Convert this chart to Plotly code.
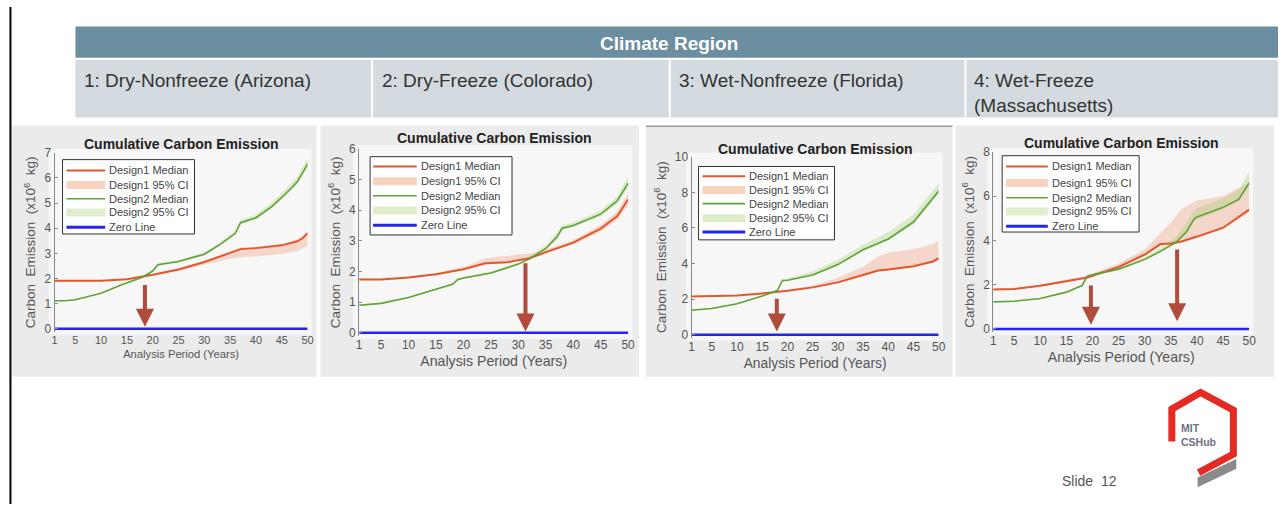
import plotly.graph_objects as go

W, H = 1285, 508
FONT = "Liberation Sans, Arial, sans-serif"

# ---------------- data ----------------
year_ticks = [1, 5, 10, 15, 20, 25, 30, 35, 40, 45, 50]
zero_years = [1, 50]
zero_values = [0, 0]

region_labels = ["1: Dry-Nonfreeze (Arizona)", "2: Dry-Freeze (Colorado)",
                 "3: Wet-Nonfreeze (Florida)", "4: Wet-Freeze<br>(Massachusetts)"]
legend_labels = ["Design1 Median", "Design1 95% CI", "Design2 Median", "Design2 95% CI", "Zero Line"]

# Chart 1: Arizona
az_d1_years = [1, 5, 10, 15, 17, 20, 25, 30, 35, 37, 40, 45, 48, 49, 50]
az_d1_med = [1.91, 1.90, 1.91, 1.97, 2.03, 2.15, 2.36, 2.66, 3.02, 3.17, 3.21, 3.32, 3.48, 3.60, 3.80]
az_d1_lo = [1.89, 1.88, 1.89, 1.95, 2.00, 2.11, 2.30, 2.55, 2.80, 2.85, 2.88, 2.98, 3.10, 3.20, 3.30]
az_d1_hi = [1.93, 1.92, 1.93, 1.99, 2.05, 2.18, 2.40, 2.70, 3.07, 3.22, 3.26, 3.37, 3.54, 3.68, 3.90]
az_d2_years = [1, 3, 5, 10, 14, 18, 20, 21, 25, 30, 33, 36, 37, 40, 43, 46, 48, 50]
az_d2_med = [1.12, 1.12, 1.16, 1.42, 1.75, 2.05, 2.30, 2.55, 2.68, 2.97, 3.35, 3.80, 4.22, 4.42, 4.85, 5.42, 5.85, 6.55]
az_d2_lo = [1.10, 1.10, 1.14, 1.40, 1.73, 2.02, 2.26, 2.50, 2.63, 2.92, 3.30, 3.74, 4.15, 4.35, 4.78, 5.33, 5.75, 6.40]
az_d2_hi = [1.14, 1.14, 1.18, 1.44, 1.78, 2.08, 2.35, 2.60, 2.74, 3.04, 3.43, 3.90, 4.32, 4.55, 5.00, 5.60, 6.05, 6.80]
az_arrows_x = [18.5]
az_arrows_tail = [1.80]
az_arrows_tip = [0.08]

# Chart 2: Colorado
co_d1_years = [1, 5, 10, 15, 20, 24, 25, 28, 30, 32, 35, 40, 45, 48, 50]
co_d1_med = [1.74, 1.74, 1.80, 1.91, 2.07, 2.27, 2.28, 2.30, 2.37, 2.43, 2.63, 2.94, 3.40, 3.80, 4.35]
co_d1_lo = [1.72, 1.72, 1.78, 1.89, 2.04, 2.24, 2.25, 2.27, 2.34, 2.40, 2.58, 2.88, 3.30, 3.68, 4.15]
co_d1_hi = [1.77, 1.77, 1.83, 1.95, 2.14, 2.42, 2.46, 2.50, 2.55, 2.58, 2.72, 3.02, 3.52, 3.95, 4.55]
co_d2_years = [1, 5, 10, 15, 18, 19, 20, 25, 30, 32, 35, 37, 38, 40, 45, 48, 50]
co_d2_med = [0.90, 0.96, 1.15, 1.42, 1.58, 1.74, 1.79, 1.95, 2.24, 2.41, 2.75, 3.12, 3.41, 3.50, 3.87, 4.30, 4.88]
co_d2_lo = [0.88, 0.94, 1.13, 1.40, 1.56, 1.71, 1.76, 1.92, 2.20, 2.37, 2.70, 3.05, 3.35, 3.44, 3.80, 4.20, 4.75]
co_d2_hi = [0.92, 0.98, 1.18, 1.45, 1.62, 1.78, 1.83, 2.00, 2.30, 2.48, 2.85, 3.25, 3.52, 3.60, 3.98, 4.45, 5.10]
co_arrows_x = [31.3]
co_arrows_tail = [2.32]
co_arrows_tip = [0.04]

# Chart 3: Florida
fl_d1_years = [1, 10, 15, 18, 20, 25, 30, 35, 38, 40, 45, 49, 50]
fl_d1_med = [2.15, 2.20, 2.32, 2.39, 2.47, 2.66, 2.94, 3.36, 3.61, 3.67, 3.85, 4.13, 4.30]
fl_d1_lo = [2.12, 2.17, 2.29, 2.36, 2.44, 2.62, 2.90, 3.30, 3.55, 3.60, 3.78, 4.05, 4.20]
fl_d1_hi = [2.18, 2.23, 2.35, 2.42, 2.51, 2.75, 3.20, 3.80, 4.40, 4.60, 4.80, 5.10, 5.30]
fl_d2_years = [1, 5, 10, 15, 18, 19, 20, 25, 30, 35, 40, 45, 50]
fl_d2_med = [1.38, 1.47, 1.74, 2.17, 2.48, 3.05, 3.06, 3.36, 3.94, 4.77, 5.38, 6.33, 8.07]
fl_d2_lo = [1.35, 1.44, 1.71, 2.14, 2.45, 3.00, 3.01, 3.30, 3.88, 4.70, 5.30, 6.20, 7.90]
fl_d2_hi = [1.41, 1.50, 1.77, 2.20, 2.52, 3.12, 3.15, 3.55, 4.20, 5.05, 5.75, 6.75, 8.50]
fl_arrows_x = [17.9]
fl_arrows_tail = [2.11]
fl_arrows_tip = [0.18]

# Chart 4: Massachusetts
ma_d1_years = [1, 5, 10, 15, 19, 20, 25, 30, 33, 35, 37, 40, 45, 50]
ma_d1_med = [1.78, 1.80, 1.95, 2.14, 2.32, 2.40, 2.80, 3.36, 3.83, 3.86, 3.95, 4.17, 4.57, 5.39]
ma_d1_lo = [1.76, 1.78, 1.92, 2.10, 2.28, 2.35, 2.75, 3.30, 3.75, 3.80, 3.88, 4.10, 4.50, 5.25]
ma_d1_hi = [1.80, 1.83, 1.99, 2.20, 2.40, 2.50, 2.95, 3.60, 4.30, 4.80, 5.40, 5.80, 6.00, 6.60]
ma_d2_years = [1, 5, 10, 15, 18, 19, 20, 25, 30, 33, 36, 38, 39.5, 40, 45, 48, 50]
ma_d2_med = [1.22, 1.25, 1.37, 1.66, 1.96, 2.38, 2.44, 2.70, 3.14, 3.50, 3.92, 4.39, 4.98, 5.05, 5.49, 5.86, 6.60]
ma_d2_lo = [1.20, 1.23, 1.35, 1.63, 1.93, 2.34, 2.40, 2.66, 3.09, 3.44, 3.85, 4.30, 4.88, 4.95, 5.40, 5.75, 6.40]
ma_d2_hi = [1.25, 1.28, 1.40, 1.70, 2.00, 2.45, 2.50, 2.78, 3.25, 3.65, 4.15, 4.80, 5.35, 5.45, 5.90, 6.30, 7.10]
ma_arrows_x = [19.7, 36.2]
ma_arrows_tail = [2.03, 3.65]
ma_arrows_tip = [0.19, 0.34]

y_max = [7, 6, 10, 8]
y_dtick = [1, 1, 2, 2]

# ---------------- styling / geometry ----------------
RED = "#e2582c"
GREEN = "#62a338"
BLUE = "#2424f0"
RED_BAND = "rgba(236,130,90,0.28)"
GREEN_BAND = "rgba(150,205,100,0.30)"
RED_LEG = "#f7d2bf"
GREEN_LEG = "#dfedcc"
ARROW = "#b04c3c"
TXT = "#555555"

# plot box in px: left (x=1), right (x=50), top (y=max), bottom (y=0)
geom = [(52, 307, 149, 329), (359, 630, 145, 333), (694, 943, 153, 335), (998, 1256, 148, 329)]
img_boxes = [(9, 316, 121, 378), (320, 641, 121, 378), (648, 957, 122, 378), (960, 1281, 121, 378)]
title_y = [140, 134, 145, 139]
xtitle_size = [11.2, 14.2, 13.8, 14.2]
xtick_size = [11, 12, 12, 12]
legend_boxes = [(60, 156, 193, 232), (370, 153, 513, 233), (701, 163, 838, 238), (1007, 152, 1145, 230)]
legend_sample_x = [(64, 103), (373, 417), (705, 748), (1011, 1053)]
legend_rows = [[167, 182, 196, 210, 225], [163, 178, 193, 208, 223],
               [173, 187, 201, 216, 230], [163, 180, 195, 209, 224]]


def PX(x):
    return x / W


def PY(y):
    return 1 - y / H


charts = [
    (az_d1_years, az_d1_med, az_d1_lo, az_d1_hi, az_d2_years, az_d2_med, az_d2_lo, az_d2_hi,
     az_arrows_x, az_arrows_tail, az_arrows_tip),
    (co_d1_years, co_d1_med, co_d1_lo, co_d1_hi, co_d2_years, co_d2_med, co_d2_lo, co_d2_hi,
     co_arrows_x, co_arrows_tail, co_arrows_tip),
    (fl_d1_years, fl_d1_med, fl_d1_lo, fl_d1_hi, fl_d2_years, fl_d2_med, fl_d2_lo, fl_d2_hi,
     fl_arrows_x, fl_arrows_tail, fl_arrows_tip),
    (ma_d1_years, ma_d1_med, ma_d1_lo, ma_d1_hi, ma_d2_years, ma_d2_med, ma_d2_lo, ma_d2_hi,
     ma_arrows_x, ma_arrows_tail, ma_arrows_tip),
]

fig = go.Figure()
shapes = []
annotations = []
layout_axes = {}

# slide-level decorations
shapes.append(dict(type="line", xref="paper", yref="paper", x0=PX(7.5), x1=PX(7.5), y0=0, y1=1,
                   line=dict(color="black", width=2)))
# table header
shapes.append(dict(type="rect", xref="paper", yref="paper", x0=PX(73), x1=PX(1285), y0=PY(52), y1=PY(20),
                   fillcolor="#6b8ea0", line=dict(width=0), layer="below"))
shapes.append(dict(type="rect", xref="paper", yref="paper", x0=PX(73), x1=PX(1285), y0=PY(113), y1=PY(54),
                   fillcolor="#d4dbe0", line=dict(width=0), layer="below"))
for xd in [372, 672, 970]:
    shapes.append(dict(type="line", xref="paper", yref="paper", x0=PX(xd), x1=PX(xd), y0=PY(113), y1=PY(54),
                       line=dict(color="white", width=2)))
annotations.append(dict(text="<b>Climate Region</b>", x=PX(671), y=PY(37), xref="paper", yref="paper",
                        showarrow=False, font=dict(family=FONT, size=19, color="white"),
                        xanchor="center", yanchor="middle"))
for lbl, xl in zip(region_labels, [80, 380, 679, 977]):
    annotations.append(dict(text=lbl, x=PX(xl), y=PY(62), xref="paper", yref="paper", showarrow=False,
                            font=dict(family=FONT, size=19, color="#333333"), align="left",
                            xanchor="left", yanchor="top"))

for i, (d1x, d1m, d1l, d1h, d2x, d2m, d2l, d2h, axs, atail, atip) in enumerate(charts):
    n = i + 1
    xa = "x" if n == 1 else f"x{n}"
    ya = "y" if n == 1 else f"y{n}"
    left, right, top, bottom = geom[i]
    scale = (bottom - top) / y_max[i]
    pad = 3
    ylo = -pad / scale

    # image backgrounds
    bx0, bx1, by0, by1 = img_boxes[i]
    shapes.append(dict(type="rect", xref="paper", yref="paper", x0=PX(bx0), x1=PX(bx1), y0=PY(by1), y1=PY(by0),
                       fillcolor="#ebebeb", line=dict(width=0), layer="below"))
    shapes.append(dict(type="rect", xref="paper", yref="paper", x0=PX(left - 6), x1=PX(right + 4),
                       y0=PY(bottom + 6), y1=PY(top - 4),
                       fillcolor="#f7f7f7", line=dict(width=0), layer="below"))
    if n == 3:
        shapes.append(dict(type="line", xref="paper", yref="paper", x0=PX(bx0), x1=PX(bx1), y0=PY(by0), y1=PY(by0),
                           line=dict(color="#999999", width=1.5)))

    # traces
    fig.add_trace(go.Scatter(x=d1x + d1x[::-1], y=d1h + d1l[::-1], fill="toself", fillcolor=RED_BAND,
                             line=dict(width=0), mode="lines", xaxis=xa, yaxis=ya, showlegend=False,
                             hoverinfo="skip", name=legend_labels[1]))
    fig.add_trace(go.Scatter(x=d2x + d2x[::-1], y=d2h + d2l[::-1], fill="toself", fillcolor=GREEN_BAND,
                             line=dict(width=0), mode="lines", xaxis=xa, yaxis=ya, showlegend=False,
                             hoverinfo="skip", name=legend_labels[3]))
    fig.add_trace(go.Scatter(x=d1x, y=d1m, mode="lines", line=dict(color=RED, width=2),
                             xaxis=xa, yaxis=ya, showlegend=False, name=legend_labels[0]))
    fig.add_trace(go.Scatter(x=d2x, y=d2m, mode="lines", line=dict(color=GREEN, width=1.6),
                             xaxis=xa, yaxis=ya, showlegend=False, name=legend_labels[2]))
    fig.add_trace(go.Scatter(x=zero_years, y=zero_values, mode="lines", line=dict(color=BLUE, width=2.5),
                             xaxis=xa, yaxis=ya, showlegend=False, name=legend_labels[4]))

    layout_axes["xaxis" if n == 1 else f"xaxis{n}"] = dict(
        domain=[PX(left), PX(right)], range=[1, 50], anchor=ya, tickvals=year_ticks,
        showgrid=False, zeroline=False, showline=False, ticks="",
        tickfont=dict(family=FONT, size=xtick_size[i], color=TXT),
        title=dict(text="Analysis Period (Years)", font=dict(family=FONT, size=xtitle_size[i], color=TXT),
                   standoff=5),
    )
    layout_axes["yaxis" if n == 1 else f"yaxis{n}"] = dict(
        domain=[PY(bottom + pad), PY(top)], range=[ylo, y_max[i]], anchor=xa, dtick=y_dtick[i], tick0=0,
        showgrid=False, zeroline=False, showline=True, linecolor="#8a8a8a", linewidth=1,
        ticks="inside", ticklen=3, tickcolor="#8a8a8a",
        tickfont=dict(family=FONT, size=12, color=TXT),
        title=dict(text="Carbon  Emission  (x10<sup>6</sup>  kg)", font=dict(family=FONT, size=13.5, color=TXT),
                   standoff=5),
    )

    # chart title
    annotations.append(dict(text="<b>Cumulative Carbon Emission</b>", x=PX((left + right) / 2), y=PY(title_y[i]),
                            xref="paper", yref="paper", showarrow=False,
                            font=dict(family=FONT, size=14, color="#222222"),
                            xanchor="center", yanchor="middle"))

    # arrows
    for axv, t0, t1 in zip(axs, atail, atip):
        annotations.append(dict(x=axv, y=t1, ax=axv, ay=t0, xref=xa, yref=ya, axref=xa, ayref=ya,
                                text="", showarrow=True, arrowhead=2, arrowsize=0.9, arrowwidth=4,
                                arrowcolor=ARROW))

    # legend box
    lx0, ly0, lx1, ly1 = legend_boxes[i]
    shapes.append(dict(type="rect", xref="paper", yref="paper", x0=PX(lx0), x1=PX(lx1), y0=PY(ly1), y1=PY(ly0),
                       fillcolor="white", line=dict(color="#333333", width=1)))
    sx0, sx1 = legend_sample_x[i]
    styles = [(RED, 2), (RED_LEG, 8), (GREEN, 1.6), (GREEN_LEG, 8), (BLUE, 3)]
    for (col, wd), ry, lbl in zip(styles, legend_rows[i], legend_labels):
        shapes.append(dict(type="line", xref="paper", yref="paper", x0=PX(sx0), x1=PX(sx1), y0=PY(ry), y1=PY(ry),
                           line=dict(color=col, width=wd)))
        annotations.append(dict(text=lbl, x=PX(sx1 + 2), y=PY(ry), xref="paper", yref="paper", showarrow=False,
                                font=dict(family=FONT, size=11, color="#444444"),
                                xanchor="left", yanchor="middle"))

# footer: slide number and logo
annotations.append(dict(text="Slide  12", x=PX(1065), y=PY(484), xref="paper", yref="paper", showarrow=False,
                        font=dict(family=FONT, size=14, color="#555555"), xanchor="left", yanchor="middle"))
logo_path = "M {} {} L {} {} L {} {} L {} {} L {} {} L {} {}".format(
    PX(1178), PY(444), PX(1178), PY(411), PX(1207), PY(394), PX(1240), PY(412), PX(1240), PY(457),
    PX(1205), PY(476))
shapes.append(dict(type="path", xref="paper", yref="paper", path=logo_path,
                   line=dict(color="#e52a24", width=7)))
gray_path = "M {} {} L {} {} L {} {} L {} {} Z".format(
    PX(1204), PY(481), PX(1243), PY(462), PX(1243), PY(472), PX(1204), PY(491))
shapes.append(dict(type="path", xref="paper", yref="paper", path=gray_path,
                   fillcolor="#8a8a8a", line=dict(width=0)))
annotations.append(dict(text="<b>MIT<br>CSHub</b>", x=PX(1185), y=PY(437), xref="paper", yref="paper",
                        showarrow=False, font=dict(family=FONT, size=10.5, color="#6f7180"),
                        xanchor="left", yanchor="middle", align="left"))

fig.update_layout(
    width=W, height=H, margin=dict(l=0, r=0, t=0, b=0),
    paper_bgcolor="white", plot_bgcolor="rgba(0,0,0,0)",
    showlegend=False, shapes=shapes, annotations=annotations,
    font=dict(family=FONT),
    **layout_axes,
)

fig.write_html("out.html", config={"displayModeBar": False},
               post_script="document.body.style.margin='0px';")
